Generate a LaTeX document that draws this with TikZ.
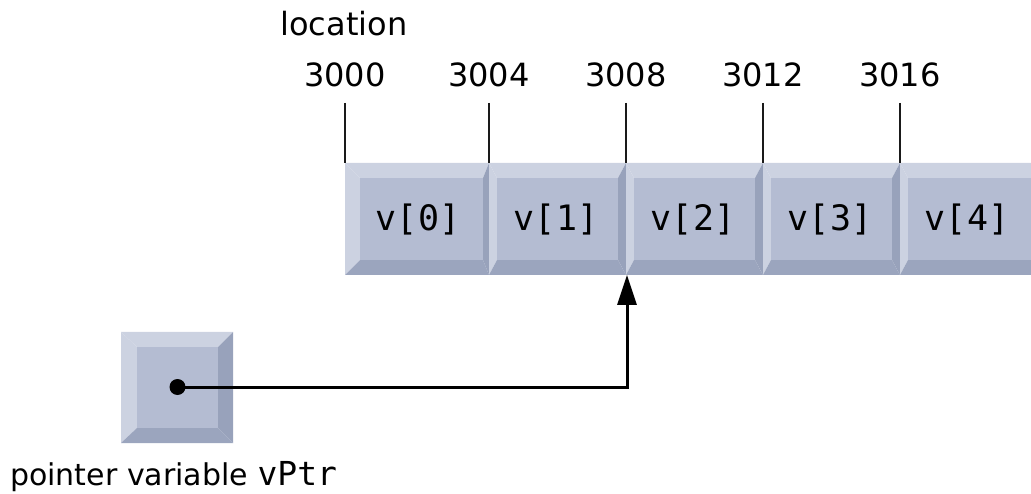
\documentclass[tikz,border=0pt]{standalone}
\usepackage{fontspec}
\setmainfont{DejaVu Sans}
\setmonofont{DejaVu Sans Mono}
\usetikzlibrary{arrows.meta}

\definecolor{bevlight}{HTML}{CCD2E1}
\definecolor{bevdark}{HTML}{9BA5BE}
\definecolor{bevright}{HTML}{98A2BB}
\definecolor{faceblue}{HTML}{B4BCD2}
\definecolor{inkline}{HTML}{1A1A1A}

\tikzset{
  celltext/.style={font=\fontsize{35}{40}\selectfont\ttfamily, text=black, inner sep=0pt},
  addrtext/.style={font=\fontsize{32}{36}\selectfont, text=black, inner sep=0pt},
  tick/.style={draw=inkline, line width=2.4pt},
  ptr/.style={draw=black, line width=3pt, -{Triangle[length=30pt,width=19pt]}},
  ptrdot/.style={circle, fill=black, inner sep=0pt, minimum size=16pt},
}

% bevelled box: #1 x0, #2 y0, #3 x1, #4 y1 (outer), #5 x0, #6 y0, #7 x1, #8 y1 (inner face)
\newcommand{\bevelbox}[8]{%
  \fill[bevlight] (#1,#2) -- (#3,#2) -- (#7,#6) -- (#5,#6) -- cycle;
  \fill[bevlight] (#1,#2) -- (#5,#6) -- (#5,#8) -- (#1,#4) -- cycle;
  \fill[bevright] (#3,#2) -- (#3,#4) -- (#7,#8) -- (#7,#6) -- cycle;
  \fill[bevdark] (#1,#4) -- (#3,#4) -- (#7,#8) -- (#5,#8) -- cycle;
  \fill[faceblue] (#5,#6) rectangle (#7,#8);
}

\begin{document}
\begin{tikzpicture}[x=1pt, y=-1pt]
  \useasboundingbox (0,0) rectangle (1031,494);

  % array cells v[0] .. v[4]
  \bevelbox{345}{163}{489}{275}{360}{178}{483}{260}
  \bevelbox{489}{163}{626}{275}{497}{178}{618}{260}
  \bevelbox{626}{163}{763}{275}{634}{178}{755}{260}
  \bevelbox{763}{163}{900}{275}{771}{178}{892}{260}
  \bevelbox{900}{163}{1045}{275}{908}{178}{1045}{260}

  \node[celltext] (v0) at (418,220) {v[0]};
  \node[celltext] (v1) at (556,220) {v[1]};
  \node[celltext] (v2) at (693,220) {v[2]};
  \node[celltext] (v3) at (830,220) {v[3]};
  \node[celltext] (v4) at (967,220) {v[4]};

  % addresses and ticks
  \node[addrtext] (loc) at (344,24) {location};
  \foreach \x/\a in {345/3000, 489/3004, 626/3008, 763/3012, 900/3016} {
    \node[addrtext] (a\a) at (\x,75) {\a};
    \coordinate (t\a) at (\x,103);
    \coordinate (b\a) at (\x,163);
    \draw[tick] (t\a) -- (b\a);
  }

  % pointer variable box
  \bevelbox{121}{332}{233}{443}{137}{347}{218}{428}
  \node[ptrdot] (dot) at (177.5,387) {};
  \coordinate (target) at (627,275);
  \draw[ptr] (dot.center) -| (target);

  \node[anchor=base west, inner sep=0pt, font=\fontsize{30}{34}\selectfont] (lbl) at (10,485)
    {pointer variable \texttt{\fontsize{33}{36}\selectfont vPtr}};
\end{tikzpicture}
\end{document}
